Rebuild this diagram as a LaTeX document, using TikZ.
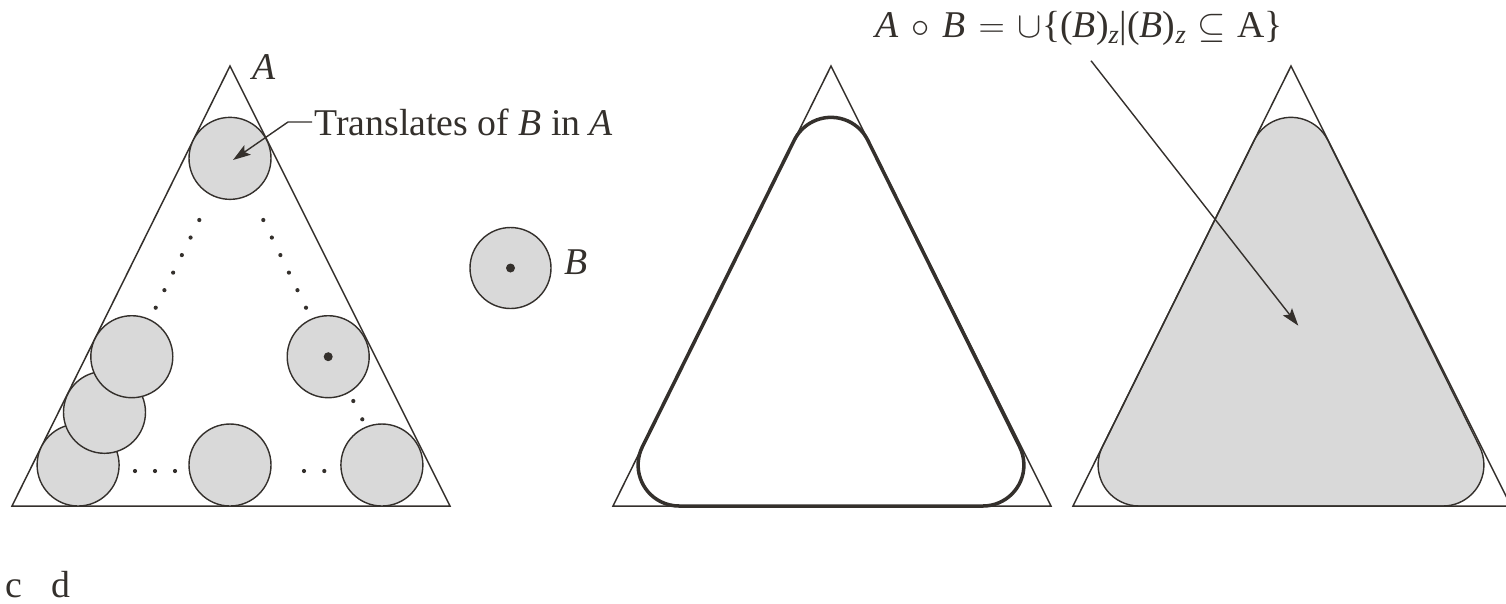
\documentclass[tikz,border=0pt]{standalone}
\usepackage{fontspec}
\setmainfont{Liberation Serif}
\usetikzlibrary{arrows.meta, calc}

\definecolor{ink}{RGB}{52,48,44}
\definecolor{disk}{RGB}{217,217,217}

\begin{document}
\begin{tikzpicture}[
  x=0.02cm, y=0.02cm,
  tri/.style={draw=ink, line width=0.85pt},
  disc/.style={draw=ink, line width=0.8pt, fill=disk},
  opened/.style={draw=ink, line width=2pt},
  filled/.style={draw=ink, line width=0.8pt, fill=disk},
  lbl/.style={font=\fontsize{21.5}{25}\selectfont, text=ink, inner sep=0pt},
  arr/.style={-{Stealth[length=10pt, width=6.5pt, inset=2pt]}, draw=ink, line width=0.8pt},
  pt/.style={fill=ink},
]
  \useasboundingbox (0,0) rectangle (1506,-603);

  %% ══════════════════════════════════════════════════════
  %% Panel 1: A with translates of B
  \draw[tri] (230,-66) -- (12,-506) -- (450,-506) -- cycle;
  \node[lbl, anchor=base west] (lblA) at (252,-79) {\textit{A}};

  \draw[disc] (78.1,-465)  circle (41);   %% bottom left
  \draw[disc] (104.5,-412.3) circle (41);
  \draw[disc] (131.8,-356.7) circle (41);
  \draw[disc] (230,-465)   circle (41);   %% bottom middle
  \draw[disc] (381.9,-465) circle (41);   %% bottom right
  \draw[disc] (328.2,-356.7) circle (41);
  \fill[pt] (328.2,-356.7) circle (4.5);
  \draw[disc] (230,-158.35) circle (41);  %% top
  \coordinate (ctop) at (233,-160);

  %% dotted traces of the centre
  \foreach \i in {0,...,5} {
    \fill[pt] ($(199.3,-220)!\i/5!(155.7,-307.7)$) circle (2.1);
    \fill[pt] ($(263.3,-220)!\i/5!(306,-307.7)$) circle (2.1);
  }
  \foreach \x in {135,155,175,304,324.3}
    \fill[pt] (\x,-471) circle (2.1);
  \fill[pt] (353.3,-401) circle (2.1);
  \fill[pt] (362.3,-419.3) circle (2.1);

  \node[lbl, anchor=base west] (transl) at (314,-135)
    {Translates of \textit{B} in \textit{A}};
  \draw[arr] ($(transl.base west)+(-2,13)$) -- ++(-24,0) -- (ctop);

  %% structuring element B
  \draw[disc] (510.5,-268) circle (40.5);
  \fill[pt] (510.5,-268) circle (4.5);
  \node[lbl, anchor=base west] (lblB) at (564,-274) {\textit{B}};

  %% ══════════════════════════════════════════════════════
  %% Panel 2: outline of the opening
  \begin{scope}[shift={(601,0)}]
    \draw[tri] (230,-66) -- (12,-506) -- (450,-506) -- cycle;
    \coordinate (ca) at (230,-158.35);
    \coordinate (cl) at (78.1,-465);
    \coordinate (cr) at (381.9,-465);
    \draw[opened] ($(ca)+(26.36:41)$) arc[start angle=26.36, end angle=153.64, radius=41]
      -- ($(cl)+(153.64:41)$) arc[start angle=153.64, end angle=270, radius=41]
      -- ($(cr)+(270:41)$) arc[start angle=270, end angle=386.36, radius=41] -- cycle;
  \end{scope}

  %% ══════════════════════════════════════════════════════
  %% Panel 3: opening, filled
  \begin{scope}[shift={(1061,0)}]
    \coordinate (ca) at (230,-158.35);
    \coordinate (cl) at (78.1,-465);
    \coordinate (cr) at (381.9,-465);
    \draw[filled] ($(ca)+(26.36:41)$) arc[start angle=26.36, end angle=153.64, radius=41]
      -- ($(cl)+(153.64:41)$) arc[start angle=153.64, end angle=270, radius=41]
      -- ($(cr)+(270:41)$) arc[start angle=270, end angle=386.36, radius=41] -- cycle;
    \draw[tri] (230,-66) -- (12,-506) -- (450,-506) -- cycle;
    \coordinate (tipR) at (237.3,-325.7);
  \end{scope}

  \node[lbl, anchor=base west] (form) at (875,-37.7)
    {\textit{A}\hspace{2pt} $\circ$\hspace{2pt} \textit{B}\hspace{2pt} $=$\hspace{2pt} $\cup$\{(\textit{B})\textsubscript{\textit{z}}|(\textit{B})\textsubscript{\textit{z}}\hspace{1pt} $\subseteq$\hspace{1pt} A\}};
  \draw[arr] ($(form.base west)+(216,-23)$) -- (tipR);

  %% ═══ sub-figure letters ═══
  \node[lbl, anchor=base west] (lblc) at (5,-597) {c};
  \node[lbl, anchor=base west] (lbld) at (51,-597) {d};
\end{tikzpicture}
\end{document}
